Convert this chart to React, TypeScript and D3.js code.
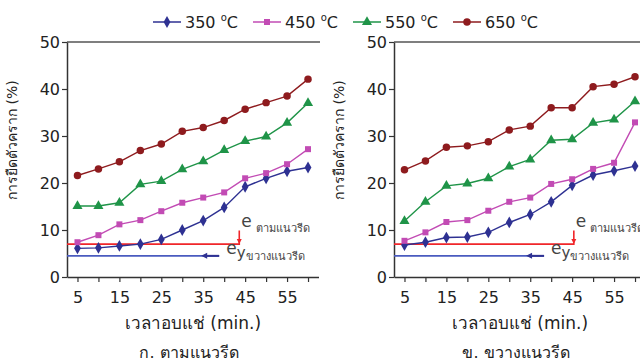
import React, { useRef, useEffect } from 'react';
import * as d3 from 'd3';

// soaking time (min.)
const times = [5, 10, 15, 20, 25, 30, 35, 40, 45, 50, 55, 60];

// ก. ตามแนวรีด (along rolling direction)
const along350 = [6.1, 6.2, 6.6, 7.0, 8.0, 10.0, 12.0, 14.8, 19.2, 21.0, 22.5, 23.3];
const along450 = [7.4, 8.9, 11.2, 12.1, 14.0, 15.8, 16.9, 18.0, 21.0, 22.1, 24.0, 27.2];
const along550 = [15.1, 15.1, 15.8, 19.7, 20.4, 22.9, 24.6, 27.0, 28.9, 29.9, 32.8, 37.0];
const along650 = [21.6, 23.0, 24.5, 26.9, 28.3, 31.0, 31.8, 33.3, 35.7, 37.1, 38.5, 42.1];

// ข. ขวางแนวรีด (across rolling direction)
const across350 = [6.8, 7.4, 8.4, 8.5, 9.5, 11.6, 13.3, 16.0, 19.5, 21.7, 22.6, 23.6];
const across450 = [7.7, 9.5, 11.7, 12.1, 14.1, 16.0, 16.9, 19.8, 20.8, 23.0, 24.3, 32.9];
const across550 = [11.9, 16.0, 19.4, 19.9, 21.0, 23.5, 25.0, 29.1, 29.3, 32.8, 33.5, 37.4];
const across650 = [22.8, 24.7, 27.6, 27.9, 28.8, 31.3, 32.1, 36.0, 36.0, 40.5, 41.0, 42.6];

const seriesNames = ['350', '450', '550', '650'];
const seriesColors = ['#2e3192', '#c24bb4', '#1f9448', '#8e1b1e'];
const seriesSymbols = [d3.symbolDiamond, d3.symbolSquare, d3.symbolTriangle, d3.symbolCircle];
const symbolSizes = [40, 36, 44, 44];

// reference levels: e (along), e_y (across)
const eAlong = 7.0;
const eAcross = 4.5;

const yTicks = [0, 10, 20, 30, 40, 50];
const xTicks = [5, 10, 15, 20, 25, 30, 35, 40, 45, 50, 55, 60];

const panels = [
  { left: 67, series: [along350, along450, along550, along650], redEnd: 43.6, blueEnd: 38.8, caption: 'ก. ตามแนวรีด' },
  { left: 394, series: [across350, across450, across550, across650], redEnd: 45.4, blueEnd: 38.3, caption: 'ข. ขวางแนวรีด' },
];

const FONT = 'Tahoma, "DejaVu Sans", "Noto Sans", sans-serif';

function App() {
  const svgRef = useRef(null);

  useEffect(() => {
    document.body.style.margin = '0';
    const svg = d3.select(svgRef.current);
    svg.selectAll('*').remove();

    const top = 42;
    const bottom = 277;
    const yScale = d3.scaleLinear().domain([0, 50]).range([bottom, top]);

    // legend
    const legendX = [153, 253, 353, 453];
    seriesNames.forEach((name, i) => {
      const g = svg.append('g').attr('transform', `translate(${legendX[i]}, 22)`);
      g.append('line').attr('x1', 0).attr('x2', 28).attr('y1', 0).attr('y2', 0)
        .attr('stroke', seriesColors[i]).attr('stroke-width', 1.5);
      g.append('path').attr('d', d3.symbol(seriesSymbols[i], symbolSizes[i])())
        .attr('transform', 'translate(14,0)').attr('fill', seriesColors[i]);
      const t = g.append('text').attr('x', 32).attr('y', 6)
        .attr('font-family', FONT).attr('font-size', 16).attr('fill', '#222');
      t.append('tspan').text(name + ' ');
      t.append('tspan').attr('font-size', 10).attr('dy', -7).text('o');
      t.append('tspan').attr('dy', 7).text('C');
    });

    panels.forEach(p => {
      const xScale = d3.scaleLinear().domain([2.5, 62.5]).range([p.left, p.left + 251.5]);
      const g = svg.append('g');

      // top frame
      g.append('line').attr('x1', p.left).attr('x2', p.left + 253)
        .attr('y1', top).attr('y2', top).attr('stroke', '#555').attr('stroke-width', 1.3);

      const xAxis = g.append('g').attr('transform', `translate(0, ${bottom})`)
        .call(d3.axisBottom(xScale).tickValues(xTicks).tickSize(5).tickSizeOuter(0)
          .tickFormat(d => ((d - 5) % 10 === 0 ? String(d) : '')));
      const yAxis = g.append('g').attr('transform', `translate(${p.left}, 0)`)
        .call(d3.axisLeft(yScale).tickValues(yTicks).tickSize(5).tickSizeOuter(0));
      [xAxis, yAxis].forEach(a => {
        a.select('.domain').attr('stroke', '#333').attr('stroke-width', 1.5);
        a.selectAll('.tick line').attr('stroke', '#333').attr('stroke-width', 1.2);
        a.selectAll('text').attr('font-family', FONT).attr('font-size', 16).attr('fill', '#222');
      });
      xAxis.selectAll('text').attr('dy', '1.15em');
      yAxis.selectAll('text').attr('x', -7);

      // reference lines
      const yr = yScale(eAlong);
      const xr = xScale(p.redEnd);
      g.append('path')
        .attr('d', `M${p.left},${yr}H${xr}V${yScale(9.9)}`)
        .attr('fill', 'none').attr('stroke', '#f0262a').attr('stroke-width', 1.6);
      g.append('path').attr('d', `M${xr - 2.5},${yr - 5}L${xr + 2.5},${yr - 5}L${xr},${yr}Z`)
        .attr('fill', '#f0262a');
      const yb = yScale(eAcross);
      const xb = xScale(p.blueEnd);
      g.append('line').attr('x1', p.left).attr('x2', xb).attr('y1', yb).attr('y2', yb)
        .attr('stroke', '#4a5bbf').attr('stroke-width', 1.6);
      g.append('line').attr('x1', xb - 14).attr('x2', xb).attr('y1', yb).attr('y2', yb)
        .attr('stroke', '#2e3192').attr('stroke-width', 2);
      g.append('path').attr('d', `M${xb - 18},${yb}L${xb - 12},${yb - 3}L${xb - 12},${yb + 3}Z`)
        .attr('fill', '#2e3192');

      const t1 = g.append('text').attr('x', xr + 2).attr('y', yScale(10.6))
        .attr('font-family', FONT).attr('fill', '#444');
      t1.append('tspan').attr('font-size', 17).text('e');
      t1.append('tspan').attr('font-size', 11).attr('dx', 4).attr('dy', 5).text('ตามแนวรีด');
      const t2 = g.append('text').attr('x', xb + 7).attr('y', yScale(4.9))
        .attr('font-family', FONT).attr('fill', '#444');
      t2.append('tspan').attr('font-size', 17).text('e');
      t2.append('tspan').attr('font-size', 15).attr('dy', 4).text('y');
      t2.append('tspan').attr('font-size', 11).attr('dy', 2).text('ขวางแนวรีด');

      // series
      p.series.forEach((values, i) => {
        const pts = values.map((v, j) => [times[j], v]);
        const line = d3.line().x(d => xScale(d[0])).y(d => yScale(d[1]));
        g.append('path').datum(pts).attr('d', line)
          .attr('fill', 'none').attr('stroke', seriesColors[i]).attr('stroke-width', 1.4);
        g.selectAll(null).data(pts).enter().append('path')
          .attr('d', d3.symbol(seriesSymbols[i], symbolSizes[i])())
          .attr('transform', d => `translate(${xScale(d[0])},${yScale(d[1])})`)
          .attr('fill', seriesColors[i]);
      });

      // axis titles and caption
      const cx = p.left + 126;
      g.append('text').attr('transform', `translate(${p.left - 50}, 140) rotate(-90)`)
        .attr('text-anchor', 'middle').attr('font-family', FONT).attr('font-size', 14)
        .attr('fill', '#222').text('การยืดตัวคราก (%)');
      g.append('text').attr('x', cx).attr('y', 329).attr('text-anchor', 'middle')
        .attr('font-family', FONT).attr('font-size', 17).attr('fill', '#222').text('เวลาอบแช่ (min.)');
      g.append('text').attr('x', cx - 4).attr('y', 358).attr('text-anchor', 'middle')
        .attr('font-family', FONT).attr('font-size', 16)
        .attr('fill', '#222').text(p.caption);
    });
  }, []);

  return (
    <svg ref={svgRef} width={640} height={363}
      style={{ display: 'block', background: '#fff' }}></svg>
  );
}

export default App;
